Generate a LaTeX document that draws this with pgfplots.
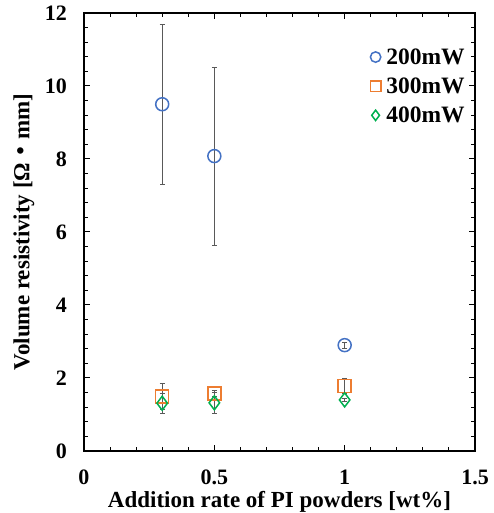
\documentclass[border=0pt]{standalone}
\usepackage{fontspec}
\setmainfont{Liberation Serif}
\newfontfamily\cjk{Noto Sans CJK JP}
\usepackage{pgfplots}
\pgfplotsset{compat=1.18}
\definecolor{cblue}{HTML}{4472C4}
\definecolor{corange}{HTML}{ED7D31}
\definecolor{cgreen}{HTML}{00B050}
\begin{document}
\begin{tikzpicture}
\begin{axis}[
  scale only axis, width=391pt, height=438pt,
  xmin=0, xmax=1.5, ymin=0, ymax=12,
  xtick={0,0.5,1,1.5}, xticklabels={0,0.5,1,1.5},
  ytick={0,2,4,6,8,10,12},
  yticklabels={0,2,4,6,8,10,12},
  minor x tick num=4, minor y tick num=4,
  tick align=inside, major tick length=6pt, minor tick length=4pt,
  tick style={black, line width=1pt},
  axis line style={line width=1.6pt},
  tick label style={font=\fontsize{22}{24}\selectfont\bfseries, inner sep=0pt},
  xticklabel style={anchor=base, yshift=-33pt},
  yticklabel style={anchor=east, xshift=-17pt},
  label style={font=\fontsize{23}{25}\selectfont\bfseries},
  xlabel={Addition rate of PI powders [wt\%]},
  ylabel={Volume resistivity [Ω{\cjk ・}mm]},
  xlabel style={at={(axis description cs:0.5,-0.128)}, anchor=base},
  ylabel style={at={(axis description cs:-0.154,0.5)}, anchor=center, rotate=0},
  legend style={at={(0.732,0.924)}, anchor=north west, draw=none, fill=none,
    font=\fontsize{23.5}{25}\selectfont\bfseries, row sep=8pt,
    inner xsep=0pt, inner ysep=0pt},
  legend cell align=left,
  legend image code/.code={\path (0.25cm,0cm) ++(8pt,0pt); \draw[#1, mark size=5.2pt] (0.25cm,0cm) -- plot coordinates {(0.25cm,0cm)};},
  error bars/error bar style={gray!70!black, line width=0.7pt},
  error bars/error mark options={rotate=90, mark size=2.5pt, gray!70!black, line width=0.7pt},
]
\addplot[only marks, mark=o, mark size=6.5pt, draw=cblue, line width=1.5pt,
  error bars/.cd, y dir=both, y explicit]
  coordinates {(0.3,9.5) +- (0,2.2) (0.5,8.08) +- (0,2.44) (1.0,2.9) +- (0,0.08)};
\addlegendentry{200mW}
\addplot[only marks, mark=square, mark size=6.5pt, draw=corange, line width=1.5pt,
  error bars/.cd, y dir=both, y explicit]
  coordinates {(0.3,1.49) +- (0,0.35) (0.5,1.58) +- (0,0.07) (1.0,1.78) +- (0,0.2)};
\addlegendentry{300mW}
\addplot[only marks, mark=diamond, mark size=7pt, draw=cgreen, line width=1.5pt,
  error bars/.cd, y dir=both, y explicit]
  coordinates {(0.3,1.31) +- (0,0.27) (0.5,1.32) +- (0,0.3) (1.0,1.40) +- (0,0.03)};
\addlegendentry{400mW}
\end{axis}
\pgfresetboundingbox
\useasboundingbox (current axis.south west) ++(-84pt,-62pt) rectangle ([xshift=19pt,yshift=13pt]current axis.north east);
\end{tikzpicture}
\end{document}
